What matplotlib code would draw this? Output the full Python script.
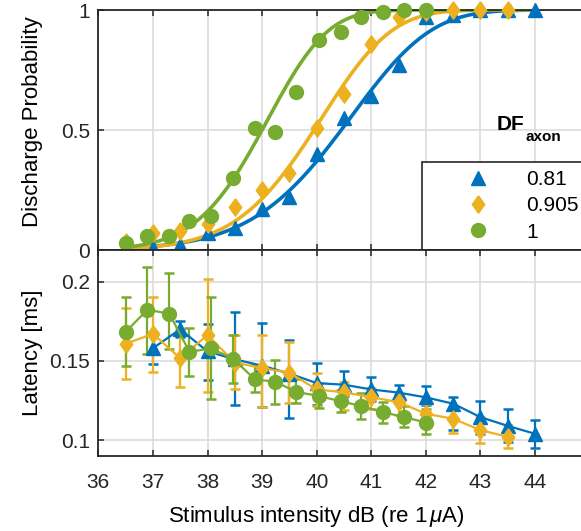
import math
import numpy as np
import matplotlib
matplotlib.use("Agg")
import matplotlib.pyplot as plt
from matplotlib.lines import Line2D

plt.rcParams['font.family'] = ['Liberation Sans', 'DejaVu Sans']
plt.rcParams['mathtext.fontset'] = 'custom'
plt.rcParams['mathtext.rm'] = 'Liberation Sans'
plt.rcParams['mathtext.it'] = 'Liberation Sans:italic'
plt.rcParams['mathtext.bf'] = 'Liberation Sans:bold'

# DF_axon = 0.81 (blue)
x_081 = [37.0, 37.5, 38.0, 38.5, 39.0, 39.5, 40.0, 40.5, 41.0, 41.5, 42.0, 42.5, 43.0, 43.5, 44.0]
prob_081 = [0.01, 0.02, 0.07, 0.09, 0.17, 0.22, 0.40, 0.55, 0.64, 0.77, 0.97, 0.98, 1.0, 1.0, 1.0]
lat_081 = [0.158, 0.170, 0.156, 0.151, 0.147, 0.142, 0.136, 0.135, 0.132, 0.130, 0.127, 0.123, 0.1145, 0.109, 0.104]
lat_081_lo = [0.148, 0.165, 0.138, 0.122, 0.121, 0.114, 0.122, 0.128, 0.125, 0.125, 0.122, 0.1065, 0.104, 0.099, 0.095]
lat_081_hi = [0.168, 0.175, 0.173, 0.181, 0.174, 0.163, 0.149, 0.1438, 0.1396, 0.1348, 0.134, 0.1275, 0.125, 0.1194, 0.1125]

# DF_axon = 0.905 (yellow)
x_0905 = [36.5, 37.0, 37.5, 38.0, 38.5, 39.0, 39.5, 40.0, 40.5, 41.0, 41.5, 42.0, 42.5, 43.0, 43.5]
prob_0905 = [0.035, 0.07, 0.08, 0.11, 0.18, 0.25, 0.32, 0.51, 0.65, 0.86, 0.97, 0.99, 1.0, 1.0, 1.0]
lat_0905 = [0.1608, 0.1671, 0.1517, 0.1663, 0.149, 0.1455, 0.1425, 0.132, 0.1302, 0.1271, 0.124, 0.1167, 0.1135, 0.1063, 0.1021]
lat_0905_lo = [0.1385, 0.1427, 0.1333, 0.1302, 0.1325, 0.121, 0.1236, 0.1213, 0.1192, 0.1198, 0.1156, 0.1094, 0.1042, 0.098, 0.0948]
lat_0905_hi = [0.1833, 0.1902, 0.1704, 0.2015, 0.1665, 0.1665, 0.1617, 0.1421, 0.1369, 0.1327, 0.129, 0.1229, 0.120, 0.1145, 0.1094]

# DF_axon = 1 (green)
x_1 = [36.5, 36.9, 37.3, 37.67, 38.07, 38.47, 38.87, 39.24, 39.63, 40.04, 40.44, 40.82, 41.21, 41.6, 42.0]
prob_1 = [0.03, 0.06, 0.06, 0.12, 0.14, 0.30, 0.51, 0.49, 0.66, 0.875, 0.91, 0.97, 0.99, 1.0, 1.0]
lat_1 = [0.1683, 0.1823, 0.1798, 0.1558, 0.1579, 0.1513, 0.1383, 0.1369, 0.1304, 0.1279, 0.1245, 0.1215, 0.1177, 0.1146, 0.1111]
lat_1_lo = [0.1465, 0.1542, 0.1573, 0.1402, 0.126, 0.1358, 0.1304, 0.1227, 0.1233, 0.12, 0.1177, 0.1135, 0.1111, 0.1081, 0.1036]
lat_1_hi = [0.1902, 0.2094, 0.2052, 0.1708, 0.1902, 0.1665, 0.1477, 0.1504, 0.1388, 0.1358, 0.1319, 0.1298, 0.124, 0.1215, 0.1198]

# fitted curves: threshold (dB) and spread (uA)
fit_mu = [40.45, 39.95, 39.0]
fit_sd = [16.0, 13.0, 9.8]

labels = ['0.81', '0.905', '1']
colors = ['#0072BD', '#EDB120', '#77AC30']
diamond = [(0, 1), (0.72, 0), (0, -1), (-0.72, 0), (0, 1)]
markers = ['^', diamond, 'o']
msizes = [10.5, 12.5, 10]

xs = [x_081, x_0905, x_1]
probs = [prob_081, prob_0905, prob_1]
lats = [lat_081, lat_0905, lat_1]
los = [lat_081_lo, lat_0905_lo, lat_1_lo]
his = [lat_081_hi, lat_0905_hi, lat_1_hi]


def fit_curve(x, mu, sd):
    i = 10 ** (np.asarray(x) / 20.0)
    i50 = 10 ** (mu / 20.0)
    return np.array([0.5 * (1 + math.erf((v - i50) / (sd * math.sqrt(2)))) for v in i])


fig = plt.figure(figsize=(5.81, 5.31), dpi=100)
left = 98.3 / 581
width = 491.4 / 581
ax1 = fig.add_axes([left, 281 / 531, width, 240 / 531])
ax2 = fig.add_axes([left, 75 / 531, width, 206 / 531])

spine_c = '#262626'
for ax in (ax1, ax2):
    ax.set_xlim(36, 45)
    ax.set_xticks(range(36, 45))
    ax.grid(True, color='#dcdcdc', lw=1.2)
    ax.set_axisbelow(True)
    ax.tick_params(direction='in', length=4, width=1.1, colors=spine_c,
                   labelsize=15, top=True, right=True, pad=6)
    for s in ax.spines.values():
        s.set_color(spine_c)
        s.set_linewidth(1.3)

# top panel: discharge probability
for k in range(3):
    xf = np.linspace(xs[k][0], 44, 200)
    ax1.plot(xf, fit_curve(xf, fit_mu[k], fit_sd[k]), color=colors[k], lw=2.6, zorder=2)
for k in range(3):
    ax1.plot(xs[k], probs[k], ls='none', marker=markers[k], ms=msizes[k],
             color=colors[k], mec=colors[k], clip_on=False, zorder=3)
ax1.set_ylim(0, 1)
ax1.set_yticks([0, 0.5, 1])
ax1.set_yticklabels(['0', '0.5', '1'])
ax1.tick_params(labelbottom=False)
ax1.set_ylabel('Discharge Probability', fontsize=16)
ax1.yaxis.set_label_coords(-0.113, 0.535)

handles = [Line2D([], [], ls='none', marker=markers[k], ms=msizes[k], color=colors[k])
           for k in range(3)]
leg = ax1.legend(handles, labels, loc='lower left', bbox_to_anchor=(0.659, 0.0),
                 borderaxespad=0, fontsize=15, frameon=True, fancybox=False,
                 borderpad=0.4, handlelength=4.6, handletextpad=0.0,
                 labelspacing=0.35, numpoints=1)
leg.get_frame().set_edgecolor('#262626')
leg.get_frame().set_linewidth(1.2)
leg.get_frame().set_alpha(1)
ax1.text(0.811, 0.50, 'DF', transform=ax1.transAxes, fontsize=15,
         fontweight='bold', va='baseline', ha='left')
ax1.text(0.870, 0.455, 'axon', transform=ax1.transAxes, fontsize=11,
         fontweight='bold', va='baseline', ha='left')

# bottom panel: latency
for k in range(3):
    lat = np.array(lats[k])
    yerr = [lat - np.array(los[k]), np.array(his[k]) - lat]
    ax2.errorbar(xs[k], lat, yerr=yerr, color=colors[k], marker=markers[k],
                 ms=msizes[k], lw=1.6, elinewidth=1.6, capsize=3.5, capthick=1.8)
ax2.set_ylim(0.09, 0.22)
ax2.set_yticks([0.1, 0.15, 0.2])
ax2.set_yticklabels(['0.1', '0.15', '0.2'])
ax2.tick_params(axis='x', pad=12)
ax2.set_ylabel('Latency [ms]', fontsize=16)
ax2.yaxis.set_label_coords(-0.113, 0.5)
ax2.set_xlabel(r'Stimulus intensity dB (re 1$\,\mu$A)', fontsize=16)
ax2.xaxis.set_label_coords(0.443, -0.235)

fig.savefig('out.png', dpi=100)
